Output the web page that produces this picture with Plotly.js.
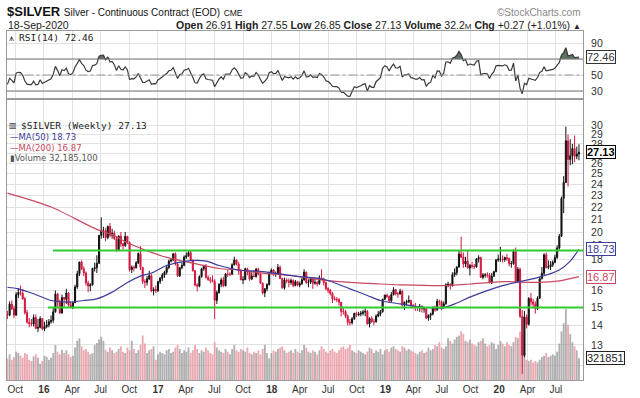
<!DOCTYPE html>
<html><head><meta charset="utf-8">
<script src="https://cdn.plot.ly/plotly-3.0.1.min.js"></script>
<style>html,body{margin:0;padding:0;background:#fff}#chart{width:640px;height:398px}</style>
</head><body><div id="chart"></div>
<script>
// ---------- DATA (weekly bars, week starting 2015-09-06 .. 2020-09-13) ----------
const firstWeek = [2015, 8, 6];
const opens = [
14.60,14.56,15.19,14.92,14.56,15.75,15.87,15.83,15.50,14.70,14.17,14.10,14.08,14.43,13.85,13.90,14.37,
13.82,13.94,14.03,14.20,14.28,14.75,15.79,15.33,14.68,15.57,15.47,15.85,15.14,15.02,15.27,16.22,17.05,17.84,17.38,17.10,16.47,16.27,16.35,17.40,17.45,17.75,19.75,20.09,20.11,19.58,20.43,19.75,19.91,19.50,18.64,19.69,19.12,18.99,19.67,19.21,17.33,17.48,17.45,17.78,18.42,17.48,16.55,16.51,16.73,16.93,15.97,16.06,
15.99,16.55,16.77,16.97,17.15,17.47,17.90,17.97,18.40,17.70,16.92,17.45,17.61,18.18,18.26,18.49,17.97,17.25,16.34,16.27,16.87,17.38,17.55,16.81,16.67,16.63,16.57,15.41,15.88,16.38,16.66,16.29,17.03,17.02,17.02,17.65,17.98,17.70,17.24,16.66,16.67,17.38,17.17,16.71,16.91,16.87,17.35,17.05,16.45,15.85,16.10,16.37,
17.14,17.30,17.05,17.06,17.48,16.75,16.17,16.65,16.60,16.50,16.62,16.31,16.55,16.33,16.42,16.67,17.16,16.50,16.52,16.72,16.45,16.50,16.42,16.79,16.70,16.50,16.11,16.02,15.82,15.50,15.46,15.45,15.30,14.77,14.76,14.50,14.17,14.15,14.36,14.66,14.58,14.62,14.67,14.74,14.77,14.08,14.38,14.20,14.20,14.51,14.63,14.76,
15.47,15.72,15.64,15.38,15.75,16.05,15.80,15.79,15.95,15.13,15.30,15.33,15.40,15.10,15.07,14.98,14.98,15.08,14.91,14.93,14.40,14.55,14.62,15.01,14.86,15.35,15.34,15.01,15.21,16.36,16.38,16.28,16.99,17.13,17.50,18.39,18.17,17.70,17.90,17.43,17.60,17.55,17.52,18.05,18.14,16.83,16.98,16.98,16.97,16.47,16.90,17.19,
17.97,18.04,18.04,18.00,18.14,18.07,17.72,17.73,18.56,16.56,17.35,14.50,12.50,14.46,14.06,15.52,15.32,15.18,14.93,15.54,16.73,17.08,18.33,17.46,17.52,17.65,17.82,18.15,18.81,19.68,22.74,24.17,28.32,26.37,26.76,27.50,26.70,26.93];
const highs = [
14.80,15.35,15.40,15.10,15.90,16.15,16.30,16.10,15.60,14.85,14.40,14.35,14.60,14.60,14.35,14.50,14.40,
14.20,14.30,14.35,14.55,14.95,16.00,15.85,15.45,15.75,15.60,16.10,15.90,15.35,15.35,16.35,17.25,17.85,17.95,17.55,17.20,16.60,16.45,17.45,17.80,18.30,19.75,21.15,20.40,20.30,20.50,20.70,20.25,20.10,19.65,19.75,20.00,19.20,20.00,19.70,19.30,17.60,17.60,17.90,18.50,18.95,17.50,16.70,16.90,17.25,17.05,16.20,16.30,
16.60,16.85,17.10,17.25,17.65,18.00,18.10,18.45,18.50,17.75,17.50,17.80,18.30,18.50,18.65,18.60,18.00,17.30,16.45,16.95,17.45,17.65,17.70,16.95,16.85,16.95,16.70,16.00,16.45,16.80,16.85,17.10,17.30,17.15,17.75,18.20,18.00,17.85,17.35,16.90,17.45,17.45,17.25,17.15,17.30,17.45,17.45,17.10,16.50,16.15,16.45,17.20,
17.40,17.35,17.20,17.70,17.60,16.80,16.80,16.75,16.75,16.75,16.70,16.65,16.60,16.55,16.80,17.35,17.20,16.70,16.80,16.75,16.80,16.60,16.95,17.35,16.80,16.55,16.20,16.10,15.90,15.65,15.60,15.55,15.30,15.00,14.85,14.60,14.35,14.45,14.70,14.75,14.75,14.80,14.85,14.95,14.85,14.45,14.50,14.35,14.60,14.80,14.85,15.50,
15.75,15.80,15.70,15.90,16.20,16.10,15.90,16.10,16.05,15.35,15.45,15.70,15.45,15.20,15.25,15.05,15.20,15.10,15.00,14.95,14.60,14.70,15.05,15.10,15.50,15.45,15.40,15.35,16.45,16.55,16.45,17.15,17.40,17.55,18.60,19.65,18.50,18.20,18.70,17.70,17.85,17.70,18.10,18.30,18.20,17.10,17.10,17.15,17.10,17.10,17.25,18.05,
18.35,18.90,18.30,18.20,18.40,18.15,17.90,18.70,18.85,17.50,17.45,14.85,14.80,14.60,15.60,15.85,15.50,15.35,15.65,16.85,17.50,18.45,18.50,17.95,17.90,17.95,18.35,19.00,19.85,22.90,24.75,29.90,29.00,28.50,28.00,28.90,27.70,27.95];
const lows = [
14.35,14.50,14.85,14.40,14.55,15.55,15.70,15.45,14.60,14.10,13.90,13.95,13.95,13.80,13.65,13.85,13.75,
13.70,13.85,13.90,14.10,14.15,14.70,15.05,14.65,14.65,15.05,15.20,15.05,14.95,14.90,15.25,16.10,16.90,17.30,16.90,16.30,15.90,15.95,16.30,17.20,17.10,17.70,19.50,19.55,19.30,19.45,19.60,19.50,19.40,18.55,18.60,18.90,18.70,18.90,19.10,17.20,17.10,17.20,17.40,17.70,17.30,16.40,16.15,16.30,16.65,15.90,15.70,15.85,
15.90,16.40,16.60,16.80,17.00,17.35,17.80,17.90,17.60,16.85,16.85,17.35,17.55,18.05,18.20,17.90,17.20,16.25,15.95,16.20,16.80,17.25,16.75,16.60,16.45,16.50,14.35,15.20,15.80,16.20,16.20,16.25,16.85,16.90,17.00,17.60,17.60,17.00,16.65,16.40,16.65,16.95,16.60,16.65,16.85,16.80,16.95,16.40,15.75,15.60,15.95,16.30,
17.05,16.90,16.85,17.00,16.70,16.10,16.05,16.45,16.20,16.35,16.20,16.25,16.25,16.20,16.35,16.60,16.40,16.20,16.40,16.10,16.35,16.25,16.35,16.65,16.30,16.00,15.85,15.70,15.25,15.40,15.30,15.10,14.50,14.60,14.40,14.00,14.00,14.05,14.30,14.45,14.50,14.50,14.55,14.50,14.05,13.90,14.15,14.00,14.15,14.45,14.50,14.70,
15.45,15.55,15.25,15.30,15.70,15.70,15.55,15.75,15.05,14.85,15.10,15.25,14.95,14.95,14.80,14.80,14.75,14.70,14.70,14.35,14.25,14.30,14.55,14.75,14.80,15.10,14.85,14.95,15.15,16.20,16.05,16.25,16.85,16.95,17.45,18.10,17.45,17.50,17.40,16.95,17.40,17.35,17.45,17.80,16.80,16.70,16.80,16.80,16.45,16.40,16.85,17.15,
17.85,17.85,17.80,17.85,17.90,17.55,17.45,17.65,16.45,16.50,14.40,11.64,12.40,13.85,14.00,15.10,14.95,14.65,14.85,15.50,16.70,16.95,17.40,17.35,17.30,17.50,17.75,18.05,18.70,19.65,21.50,24.10,23.80,25.80,25.90,26.10,26.40,26.30];
const closes = [
14.56,15.19,14.92,14.56,15.75,15.87,15.83,15.50,14.70,14.17,14.10,14.08,14.43,13.85,13.90,14.37,13.82,
13.94,14.03,14.20,14.28,14.75,15.79,15.33,14.68,15.57,15.47,15.85,15.14,15.02,15.27,16.22,17.05,17.84,17.38,17.10,16.47,16.27,16.35,17.40,17.45,17.75,19.75,20.09,20.11,19.58,20.43,19.75,19.91,19.50,18.64,19.69,19.12,18.99,19.67,19.21,17.33,17.48,17.45,17.78,18.42,17.48,16.55,16.51,16.73,16.93,15.97,16.06,15.99,
16.55,16.77,16.97,17.15,17.47,17.90,17.97,18.40,17.70,16.92,17.45,17.61,18.18,18.26,18.49,17.97,17.25,16.34,16.27,16.87,17.38,17.55,16.81,16.67,16.63,16.57,15.41,15.88,16.38,16.66,16.29,17.03,17.02,17.02,17.65,17.98,17.70,17.24,16.66,16.67,17.38,17.17,16.71,16.91,16.87,17.35,17.05,16.45,15.85,16.10,16.37,17.14,
17.30,17.05,17.06,17.48,16.75,16.17,16.65,16.60,16.50,16.62,16.31,16.55,16.33,16.42,16.67,17.16,16.50,16.52,16.72,16.45,16.50,16.42,16.79,16.70,16.50,16.11,16.02,15.82,15.50,15.46,15.45,15.30,14.77,14.76,14.50,14.17,14.15,14.36,14.66,14.58,14.62,14.67,14.74,14.77,14.08,14.38,14.20,14.20,14.51,14.63,14.76,15.47,
15.72,15.64,15.38,15.75,16.05,15.80,15.79,15.95,15.13,15.30,15.33,15.40,15.10,15.07,14.98,14.98,15.08,14.91,14.93,14.40,14.55,14.62,15.01,14.86,15.35,15.34,15.01,15.21,16.36,16.38,16.28,16.99,17.13,17.50,18.39,18.17,17.70,17.90,17.43,17.60,17.55,17.52,18.05,18.14,16.83,16.98,16.98,16.97,16.47,16.90,17.19,17.97,
18.04,18.04,18.00,18.14,18.07,17.72,17.73,18.56,16.56,17.35,14.50,12.50,14.46,14.06,15.52,15.32,15.18,14.93,15.54,16.73,17.08,18.33,17.46,17.52,17.65,17.82,18.15,18.81,19.68,22.74,24.17,28.32,26.37,26.76,27.50,26.70,26.93,27.13];
// weekly volume, millions
const volumes = [
32,38,30,34,42,40,36,33,40,38,30,28,35,38,33,24,28,
36,34,30,33,40,52,42,38,45,40,44,38,34,36,48,58,62,50,44,46,42,38,40,52,55,60,64,58,45,42,48,44,40,42,46,50,42,40,48,44,58,46,40,44,52,66,54,40,44,46,50,30,
38,42,40,38,44,46,40,42,48,52,46,40,44,42,48,40,44,52,46,40,44,42,48,44,40,38,56,48,44,42,40,46,42,38,46,52,44,42,46,44,42,48,40,38,42,40,44,38,46,52,40,32,
40,44,42,46,48,50,44,40,42,44,40,46,42,40,44,52,48,42,40,44,42,38,44,50,46,42,40,44,46,42,40,44,48,50,46,48,52,44,42,40,44,42,40,38,42,48,46,40,44,42,46,38,
44,46,42,48,50,46,44,42,50,48,44,46,44,42,40,38,42,44,40,42,48,44,46,52,50,56,48,46,50,62,58,54,60,64,66,72,68,58,56,60,54,52,50,56,58,62,54,50,52,56,54,46,
52,58,54,50,56,52,50,56,64,62,72,66,40,30,28,30,26,28,26,30,34,36,40,34,36,38,36,42,54,72,84,105,82,68,56,50,44,32.2];
// weekly closes before the chart window (Feb-Sep 2015), used only for RSI(14) warm-up
const priorCloses = [16.6,17.3,16.4,16.6,15.7,15.5,16.3,17.0,16.7,16.2,16.3,15.7,16.1,16.4,17.6,17.1,16.7,16.0,16.0,16.1,15.7,15.6,15.5,14.8,14.6,14.7,15.0,15.3,15.4,14.6,14.6];
// moving averages
const ma50Dates = ['2015-09-06','2015-10-11','2015-11-29','2016-01-24','2016-03-20','2016-05-08','2016-06-19','2016-08-07','2016-09-25','2016-11-06','2016-12-11','2017-01-29','2017-04-02','2017-06-04','2017-07-16','2017-09-17','2017-12-03','2018-03-18','2018-06-17','2018-09-09','2018-11-04','2018-12-16','2019-02-17','2019-05-05','2019-06-30','2019-08-11','2019-09-29','2020-01-12','2020-05-03','2020-07-12','2020-08-16','2020-09-13'];
const ma50Vals = [16.2,16.1,15.8,15.4,15.3,15.4,15.5,15.9,16.5,16.9,17.1,17.6,17.9,17.9,17.6,17.3,17.2,16.9,16.7,16.1,15.7,15.4,15.2,15.0,14.96,15.2,15.6,16.3,16.8,17.3,17.9,18.73];
const ma200Dates = ['2015-09-06','2016-01-24','2016-06-19','2016-08-07','2016-09-25','2016-11-06','2016-12-11','2017-01-29','2017-04-02','2017-07-16','2017-09-17','2017-12-03','2018-03-18','2018-06-17','2018-09-09','2018-12-16','2019-02-17','2019-06-30','2019-09-29','2020-01-12','2020-05-03','2020-07-12','2020-09-13'];
const ma200Vals = [23.2,22.0,20.2,19.8,19.2,18.8,18.5,18.15,17.85,17.4,17.3,17.1,16.9,16.65,16.5,16.4,16.35,16.3,16.4,16.55,16.5,16.6,16.87];
// horizontal trend lines
const trendNames = ['resistance','support'];
const trendLevels = [18.63, 15.0];
const trendStarts = ['2016-01-30','2016-01-14'];
// axis ticks (labels hidden behind value tags are left blank)
const priceTicks = [12,13,14,15,16,17,18,19,20,21,22,23,24,25,26,27,28,29,30];
const priceTickText = ['','13','14','15','16','','18','19','20','21','22','23','24','25','26','','28','29','30'];
const rsiTicks = [30,50,70,90];
const rsiTickText = ['30','50','','90'];
const quarterTicks = ['2015-10-01','2016-01-01','2016-04-01','2016-07-01','2016-10-01','2017-01-01','2017-04-01','2017-07-01','2017-10-01','2018-01-01','2018-04-01','2018-07-01','2018-10-01','2019-01-01','2019-04-01','2019-07-01','2019-10-01','2020-01-01','2020-04-01','2020-07-01'];
const quarterLabels = ['Oct','<b>16</b>','Apr','Jul','Oct','<b>17</b>','Apr','Jul','Oct','<b>18</b>','Apr','Jul','Oct','<b>19</b>','Apr','Jul','Oct','<b>20</b>','Apr','Jul'];
// header values
const lastRSI = 72.46, lastClose = 27.13, lastMA50 = 18.73, lastMA200 = 16.87, lastVolume = 32185100;

// ---------- derived ----------
const weeks = closes.map((_, i) => new Date(Date.UTC(firstWeek[0], firstWeek[1], firstWeek[2]) + i * 7 * 86400000).toISOString().slice(0, 10));
function rsi14(series) {
  const out = []; let ag = 0, al = 0;
  for (let i = 1; i < series.length; i++) {
    const ch = series[i] - series[i - 1], g = Math.max(ch, 0), l = Math.max(-ch, 0);
    if (i <= 14) { ag += g / 14; al += l / 14; } else { ag = (ag * 13 + g) / 14; al = (al * 13 + l) / 14; }
    out.push(i >= 14 ? (al === 0 ? 100 : 100 - 100 / (1 + ag / al)) : null);
  }
  return out;
}
const allC = priorCloses.concat(closes);
const rsiAll = rsi14(allC);
const rsi = rsiAll.slice(rsiAll.length - closes.length);
const rsiTop = rsi.map(v => Math.max(v, 70));
const rsiBase = rsi.map(() => 70);
const volColors = closes.map((c, i) => c >= opens[i] ? 'rgba(150,150,150,0.75)' : 'rgba(230,140,152,0.75)');

const X0 = '2015-09-03', X1 = '2020-09-26';
const XD = [6.5 / 640, 583 / 640];
const RSI_DOM = [1 - 98 / 398, 1 - 31 / 398];
const MAIN_DOM = [1 - 380 / 398, 1 - 100 / 398];
const lib = 'Liberation Sans, Arial, sans-serif';
const mono = 'DejaVu Sans Mono, Liberation Mono, monospace';
const sans = 'DejaVu Sans, Verdana, sans-serif';

const traces = [
  {type: 'bar', x: weeks, y: volumes, xaxis: 'x', yaxis: 'y2', marker: {color: volColors, line: {width: 0}}, hoverinfo: 'skip'},
  {type: 'scatter', mode: 'lines', x: weeks, y: rsiBase, xaxis: 'x', yaxis: 'y', line: {width: 0, color: 'rgba(0,0,0,0)'}, hoverinfo: 'skip'},
  {type: 'scatter', mode: 'lines', x: weeks, y: rsiTop, xaxis: 'x', yaxis: 'y', fill: 'tonexty', fillcolor: '#5d705c', line: {width: 0, color: 'rgba(0,0,0,0)'}, hoverinfo: 'skip'},
  {type: 'scatter', mode: 'lines', x: weeks, y: rsi, xaxis: 'x', yaxis: 'y', line: {width: 1.2, color: '#3a3a3a'}, hoverinfo: 'skip'},
  {type: 'scatter', mode: 'lines', x: ma200Dates, y: ma200Vals, xaxis: 'x', yaxis: 'y3', line: {width: 1.2, color: '#c84a62', shape: 'spline', smoothing: 0.8}, hoverinfo: 'skip'},
  {type: 'scatter', mode: 'lines', x: ma50Dates, y: ma50Vals, xaxis: 'x', yaxis: 'y3', line: {width: 1.2, color: '#3c3c9c', shape: 'spline', smoothing: 0.8}, hoverinfo: 'skip'}
];
trendLevels.forEach((lv, i) => traces.push({type: 'scatter', mode: 'lines', name: trendNames[i], x: [trendStarts[i], X1], y: [lv, lv], xaxis: 'x', yaxis: 'y3', line: {width: 2, color: '#2ecc2e'}, hoverinfo: 'skip'}));
traces.push({type: 'candlestick', x: weeks, open: opens, high: highs, low: lows, close: closes, xaxis: 'x', yaxis: 'y3',
  increasing: {line: {color: '#111111', width: 1}, fillcolor: '#111111'},
  decreasing: {line: {color: '#d3173f', width: 1}, fillcolor: '#d3173f'}, whiskerwidth: 0, hoverinfo: 'skip'});

function px(x) { return x / 640; }
function py(y) { return 1 - y / 398; }
function txt(x, y, text, font, extra) { return Object.assign({xref: 'paper', yref: 'paper', x: px(x), y: py(y), text: text, showarrow: false, xanchor: 'left', yanchor: 'middle', font: font}, extra || {}); }
function tag(yref, y, text, color, bold) {
  return {xref: 'paper', yref: yref, x: px(586), y: y, text: bold ? '<b>' + text + '</b>' : text, showarrow: false, xanchor: 'left', yanchor: 'middle',
    font: {family: lib, size: 11, color: color}, bgcolor: '#ffffff', bordercolor: color, borderwidth: 1, borderpad: 0};
}

const annotations = [
  txt(5, 11.5, '<b>$SILVER</b> <span style="font-size:10px">Silver - Continuous Contract (EOD)</span> <span style="font-size:8.5px">CME</span>', {family: lib, size: 13, color: '#111'}),
  txt(583, 12.5, '©StockCharts.com', {family: lib, size: 10, color: '#888'}, {xanchor: 'right'}),
  txt(6, 24.5, '18-Sep-2020', {family: lib, size: 10.5, color: '#222'}),
  txt(583, 24.5, '<b>Open</b> 26.91 <b>High</b> 27.55 <b>Low</b> 26.85 <b>Close</b> 27.13 <b>Volume</b> 32.2<span style="font-size:8px">M</span> <b>Chg</b> +0.27 (+1.01%) <span style="font-size:8px">▲</span>', {family: lib, size: 10.5, color: '#222'}, {xanchor: 'right'}),
  txt(7, 37.5, '⩚', {family: sans, size: 9, color: '#333'}),
  txt(17, 37.5, 'RSI(14) ' + lastRSI.toFixed(2), {family: mono, size: 9.5, color: '#222'}),
  txt(7, 126, '▥', {family: sans, size: 8, color: '#333'}),
  txt(19, 126, '$SILVER (Weekly) ' + lastClose.toFixed(2), {family: mono, size: 9.5, color: '#222'}),
  txt(8, 137, '—MA(50) ' + lastMA50.toFixed(2), {family: sans, size: 8.5, color: '#3c3c9c'}),
  txt(8, 147.5, '—MA(200) ' + lastMA200.toFixed(2), {family: sans, size: 8.5, color: '#c84a62'}),
  txt(8, 158, '▮Volume ' + lastVolume.toLocaleString('en-US'), {family: sans, size: 8.5, color: '#555'}),
  tag('y', lastRSI, lastRSI.toFixed(2), '#333', false),
  tag('y3', Math.log10(lastClose), lastClose.toFixed(2), '#000', true),
  tag('y3', Math.log10(lastMA50), lastMA50.toFixed(2), '#3c3c9c', false),
  tag('y3', Math.log10(lastMA200), lastMA200.toFixed(2), '#c84a62', false),
  tag('y2', lastVolume / 1e6, String(Math.round(lastVolume / 100)), '#222', false)
];

const shapes = [
  {type: 'line', xref: 'paper', yref: 'y', x0: XD[0], x1: XD[1], y0: 70, y1: 70, line: {color: '#777', width: 1}},
  {type: 'line', xref: 'paper', yref: 'y', x0: XD[0], x1: XD[1], y0: 30, y1: 30, line: {color: '#777', width: 1}},
  {type: 'line', xref: 'paper', yref: 'y', x0: XD[0], x1: XD[1], y0: 50, y1: 50, line: {color: '#999', width: 1, dash: 'dashdot'}}
];

const layout = {
  width: 640, height: 398, margin: {l: 0, r: 0, t: 0, b: 0}, paper_bgcolor: '#fff', plot_bgcolor: '#fff', showlegend: false,
  bargap: 0.15,
  xaxis: {type: 'date', domain: XD, range: [X0, X1], anchor: 'y2', tickmode: 'array', tickvals: quarterTicks, ticktext: quarterLabels, tickangle: 0,
    ticks: '', showgrid: true, gridcolor: '#e2e2e2', gridwidth: 1, showline: true, linecolor: '#9a9a9a', mirror: 'all', zeroline: false,
    tickfont: {family: lib, size: 10, color: '#333'}, ticklabelstandoff: 0, rangeslider: {visible: false}, fixedrange: true},
  yaxis: {domain: RSI_DOM, range: [21.25, 105], anchor: 'x', side: 'right', tickmode: 'array', tickvals: rsiTicks, ticktext: rsiTickText,
    ticks: '', showgrid: true, gridcolor: '#e2e2e2', showline: true, linecolor: '#9a9a9a', mirror: true, zeroline: false,
    tickfont: {family: lib, size: 10.5, color: '#333'}, ticklabelstandoff: 5},
  yaxis2: {domain: MAIN_DOM, range: [0, 415], anchor: 'x', visible: false, showgrid: false, zeroline: false},
  yaxis3: {overlaying: 'y2', anchor: 'x', type: 'log', side: 'right', range: [Math.log10(11.37), Math.log10(33.1)], tickmode: 'array',
    tickvals: priceTicks, ticktext: priceTickText, ticks: '', showgrid: true, gridcolor: '#e2e2e2', showline: true, linecolor: '#9a9a9a', mirror: true,
    zeroline: false, tickfont: {family: lib, size: 10.5, color: '#333'}, ticklabelstandoff: 5},
  annotations: annotations, shapes: shapes
};

Plotly.newPlot('chart', traces, layout, {staticPlot: true, displayModeBar: false});
</script>
</body></html>
